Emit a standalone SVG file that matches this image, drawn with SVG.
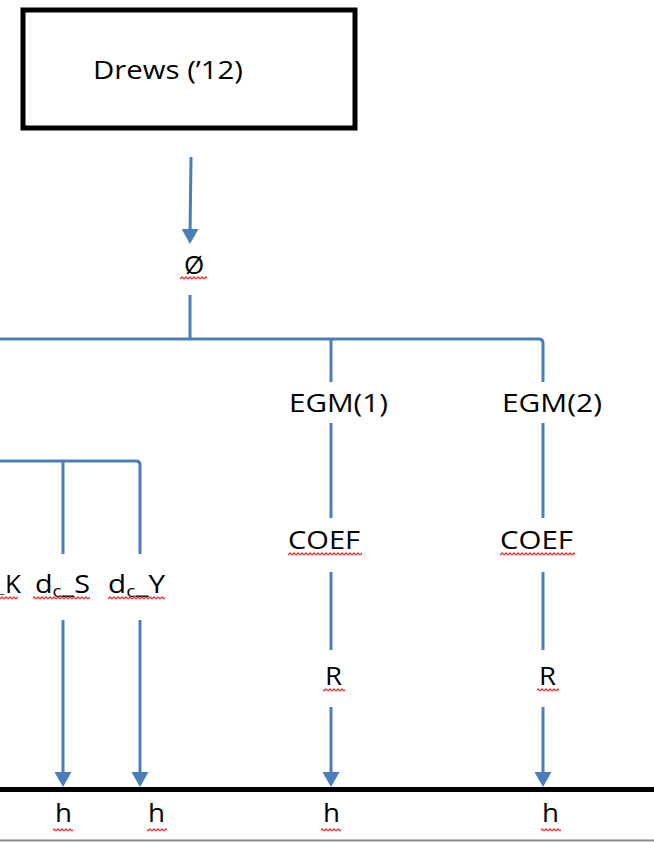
<svg xmlns="http://www.w3.org/2000/svg" width="654" height="842" viewBox="0 0 654 842">
<style>
  .t { font-family: "Open Sans", "Liberation Sans", sans-serif; font-size: 26px; fill: #000; }
  .c { fill: none; stroke: #4A7EBB; stroke-width: 3; }
  .a { marker-end: url(#arr); }
  .sq { fill: url(#wave); }
</style>
<defs>
  <marker id="arr" viewBox="0 0 15 17" refX="8" refY="8.5" markerWidth="15" markerHeight="17" markerUnits="userSpaceOnUse" orient="auto">
    <path d="M0,0 L15,8.5 L0,17 Z" fill="#4A7EBB"/>
  </marker>
  <pattern id="wave" x="0" y="0" width="4" height="4" patternUnits="userSpaceOnUse">
    <path d="M0,3 L2,1 L4,3" fill="none" stroke="#f03a3a" stroke-width="1.3"/>
  </pattern>
</defs>
<rect width="654" height="842" fill="#fff"/>

<g id="connectors">
  <path class="c a" d="M191,157 L190,237"/>
  <path class="c" d="M190,295 L190,339"/>
  <path class="c" d="M0,339 L539,339 Q543,339 543,343 L543,382"/>
  <path class="c" d="M331,339 L331,382"/>
  <path class="c" d="M331,423 L331,518"/>
  <path class="c" d="M543,423 L543,518"/>
  <path class="c" d="M331,572 L331,650"/>
  <path class="c" d="M543,572 L543,650"/>
  <path class="c a" d="M331,707 L331,780"/>
  <path class="c a" d="M543,707 L543,780"/>
  <path class="c" d="M0,461 L136,461 Q140,461 140,465 L140,554"/>
  <path class="c" d="M63,461 L63,554"/>
  <path class="c a" d="M63,620 L63,780"/>
  <path class="c a" d="M140,620 L140,780"/>
  <line x1="0" y1="789.5" x2="654" y2="789.5" stroke="#000" stroke-width="5"/>
  <line x1="0" y1="840.5" x2="654" y2="840.5" stroke="#8c8c8c" stroke-width="2"/>
</g>

<g id="drews">
  <rect x="23" y="10" width="332" height="118" fill="#fff" stroke="#000" stroke-width="5"/>
  <text class="t" x="93" y="79" font-size="24" textLength="150" lengthAdjust="spacingAndGlyphs">Drews (’12)</text>
</g>

<g id="phi">
  <text class="t" x="194" y="274" text-anchor="middle">Ø</text>
  <rect class="sq" x="180" y="276" width="27" height="4"/>
</g>

<g id="left-labels">
  <text class="t" x="0" y="593"><tspan font-size="10">_</tspan><tspan x="5">K</tspan></text>
  <rect class="sq" x="0" y="596" width="18" height="4"/>
  <text class="t" x="35" y="593" textLength="55" lengthAdjust="spacingAndGlyphs">d<tspan font-size="17" dy="4">c</tspan><tspan dy="-4">_S</tspan></text>
  <rect class="sq" x="33" y="596" width="57" height="4"/>
  <text class="t" x="108" y="593" textLength="57" lengthAdjust="spacingAndGlyphs">d<tspan font-size="17" dy="4">c</tspan><tspan dy="-4">_Y</tspan></text>
  <rect class="sq" x="108" y="596" width="57" height="4"/>
</g>

<g id="egm1">
  <text class="t" x="289" y="412" textLength="99" lengthAdjust="spacingAndGlyphs">EGM(1)</text>
</g>
<g id="egm2">
  <text class="t" x="502" y="412" textLength="100" lengthAdjust="spacingAndGlyphs">EGM(2)</text>
</g>

<g id="coef1">
  <text class="t" x="288" y="549" textLength="72" lengthAdjust="spacingAndGlyphs">COEF</text>
  <rect class="sq" x="288" y="552" width="74" height="4"/>
</g>
<g id="coef2">
  <text class="t" x="500" y="549" textLength="73" lengthAdjust="spacingAndGlyphs">COEF</text>
  <rect class="sq" x="500" y="552" width="75" height="4"/>
</g>

<g id="r1">
  <text class="t" x="325" y="685" textLength="17" lengthAdjust="spacingAndGlyphs">R</text>
  <rect class="sq" x="323" y="688" width="22" height="4"/>
</g>
<g id="r2">
  <text class="t" x="539" y="685" textLength="17" lengthAdjust="spacingAndGlyphs">R</text>
  <rect class="sq" x="537" y="688" width="22" height="4"/>
</g>

<g id="h1">
  <text class="t" x="55" y="822" textLength="17" lengthAdjust="spacingAndGlyphs">h</text>
  <rect class="sq" x="53" y="828" width="20" height="4"/>
</g>
<g id="h2">
  <text class="t" x="148" y="822" textLength="17" lengthAdjust="spacingAndGlyphs">h</text>
  <rect class="sq" x="147" y="828" width="20" height="4"/>
</g>
<g id="h3">
  <text class="t" x="323" y="822" textLength="17" lengthAdjust="spacingAndGlyphs">h</text>
  <rect class="sq" x="321" y="828" width="20" height="4"/>
</g>
<g id="h4">
  <text class="t" x="542" y="822" textLength="17" lengthAdjust="spacingAndGlyphs">h</text>
  <rect class="sq" x="541" y="828" width="20" height="4"/>
</g>
</svg>
